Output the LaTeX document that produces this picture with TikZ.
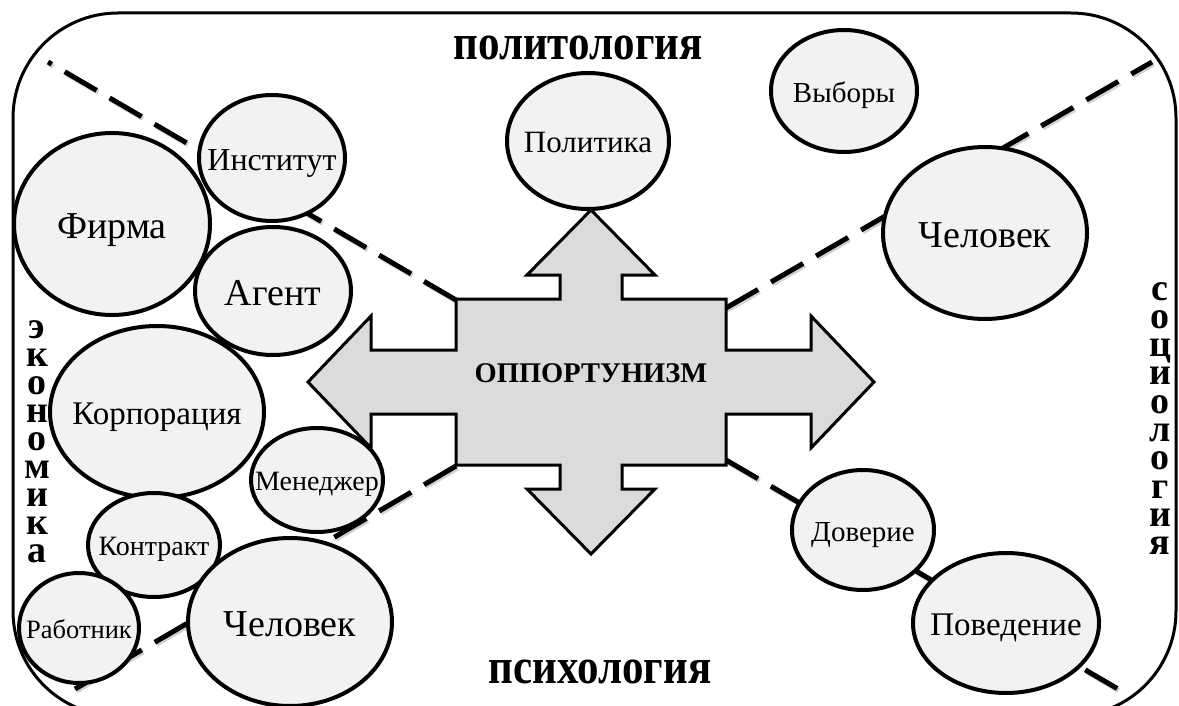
\documentclass[tikz,border=0pt]{standalone}
\usepackage{fontspec}
\setmainfont{Liberation Serif}
\usetikzlibrary{shapes.geometric}
\definecolor{bubfill}{RGB}{241,242,244}
\definecolor{crossfill}{RGB}{218,219,221}
\newcommand\bl[1]{\makebox[0pt]{\raisebox{-0.38em}[0pt][0pt]{#1}}}
\newcommand\cnd[1]{\scalebox{0.86}[1]{#1}}
\begin{document}
\begin{tikzpicture}[x=1pt,y=-1pt,
  bub/.style={ellipse,draw,line width=4pt,fill=bubfill,inner sep=0pt},
  fs/.style={font=\fontsize{#1}{#1}\selectfont},
  ttl/.style={font=\bfseries\fontsize{50}{50}\selectfont,anchor=base,inner sep=0pt},
  vert/.style={font=\bfseries\fontsize{38}{38}\selectfont,anchor=base,inner sep=0pt},
  divider/.style={line width=5pt,dash pattern=on 37pt off 15pt},
  divshadow/.style={divider,draw=black!18,transform canvas={shift={(1.5pt,-2pt)}}}]
\useasboundingbox (0,0) rectangle (1179,706);
\clip (0,0) rectangle (1179,706);
\draw[line width=3pt,rounded corners=105pt] (13,13) rectangle (1176,716);
% dividers
\coordinate (nw) at (456,300);
\coordinate (ne) at (726,308);
\coordinate (sw) at (456,466);
\coordinate (se) at (726,460);
\coordinate (nw-end) at (48,62);
\coordinate (ne-end) at (1152,62);
\coordinate (sw-end) at (75,689);
\coordinate (se-end) at (1118,689);
\foreach \a/\b in {nw/nw-end,ne/ne-end,sw/sw-end,se/se-end}
  \draw[divshadow] (\a) -- (\b);
\foreach \a/\b in {nw/nw-end,ne/ne-end,sw/sw-end,se/se-end}
  \draw[divider] (\a) -- (\b);
% cross
\draw[line width=3pt,fill=crossfill] (591,210) -- (655,275) -- (622,275) -- (622,299) -- (726,299)
  -- (726,350) -- (811,350) -- (811,316) -- (874,382) -- (811,448) -- (811,414) -- (726,414)
  -- (726,465) -- (622,465) -- (622,489) -- (655,489) -- (591,554) -- (527,489) -- (560,489)
  -- (560,465) -- (456,465) -- (456,414) -- (371,414) -- (371,448) -- (308,382) -- (371,316)
  -- (371,350) -- (456,350) -- (456,299) -- (560,299) -- (560,275) -- (527,275) -- cycle;
\node[font=\bfseries\fontsize{28.5}{28.5}\selectfont] (opp) at (591,373) {ОППОРТУНИЗМ};
% bubbles
\node[bub,fs=31,minimum width=162pt,minimum height=136pt] (pol) at (588,141) {\bl{Политика}};
\node[bub,fs=29,minimum width=146pt,minimum height=122pt] (vyb) at (844,91) {\bl{Выборы}};
\node[bub,fs=38,minimum width=196pt,minimum height=182pt] (firm) at (112,224) {\bl{Фирма}};
\node[bub,fs=32,minimum width=146pt,minimum height=126pt] (inst) at (272,158) {\bl{Институт}};
\node[bub,fs=38,minimum width=156pt,minimum height=128pt] (agent) at (273,291) {\bl{Агент}};
\node[bub,fs=33,minimum width=214pt,minimum height=172pt] (corp) at (157,412) {\bl{Корпорация}};
\node[bub,fs=28,minimum width=132pt,minimum height=104pt] (man) at (317,480) {\bl{Менеджер}};
\node[bub,fs=28,minimum width=132pt,minimum height=104pt] (contr) at (154,545) {\bl{Контракт}};
\node[bub,fs=26.5,minimum width=120pt,minimum height=110pt] (rab) at (79,628) {\bl{Работник}};
\node[bub,fs=38,minimum width=204pt,minimum height=168pt] (chel-b) at (290,622) {\bl{Человек}};
\node[bub,fs=38,minimum width=204pt,minimum height=172pt] (chel-r) at (985,233) {\bl{Человек}};
\node[bub,fs=29,minimum width=142pt,minimum height=120pt] (dov) at (863,530) {\bl{Доверие}};
\node[bub,fs=33,minimum width=186pt,minimum height=140pt] (pov) at (1006,623) {\bl{Поведение}};
% sciences
\node[ttl] (polit) at (578,60) {\cnd{политология}};
\node[ttl] (psych) at (600,683) {\cnd{психология}};
\foreach \ch [count=\i from 0] in {э,к,о,н,о,м,и,к,а}
  \node[vert] (econ-\i) at (37,338+28.1*\i) {\ch};
\foreach \ch [count=\i from 0] in {с,о,ц,и,о,л,о,г,и,я}
  \node[vert] (soc-\i) at (1160,300+28.3*\i) {\ch};
\end{tikzpicture}
\end{document}
